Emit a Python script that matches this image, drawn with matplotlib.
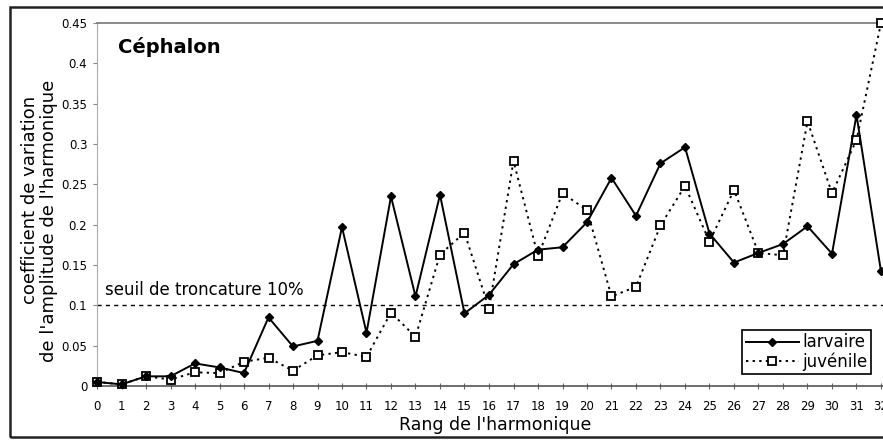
import matplotlib
matplotlib.use("Agg")
import matplotlib.pyplot as plt
from matplotlib.patches import Rectangle
from matplotlib.ticker import FuncFormatter

plt.rcParams['font.family'] = ['DejaVu Sans']

# Data
rang = list(range(33))
larvaire = [0.005, 0.002, 0.012, 0.012, 0.028, 0.023, 0.016, 0.085, 0.049, 0.056,
            0.197, 0.066, 0.235, 0.111, 0.237, 0.090, 0.113, 0.151, 0.169, 0.172,
            0.203, 0.258, 0.211, 0.276, 0.296, 0.189, 0.153, 0.165, 0.176, 0.198,
            0.164, 0.336, 0.142]
juvenile = [0.005, 0.002, 0.012, 0.008, 0.017, 0.016, 0.030, 0.035, 0.019, 0.038,
            0.042, 0.036, 0.091, 0.061, 0.163, 0.190, 0.096, 0.279, 0.161, 0.239,
            0.218, 0.111, 0.123, 0.199, 0.248, 0.179, 0.243, 0.165, 0.162, 0.328,
            0.239, 0.305, 0.450]
yticks = [0, 0.05, 0.1, 0.15, 0.2, 0.25, 0.3, 0.35, 0.4, 0.45]
seuil = 0.1

W, H = 883, 441
fig = plt.figure(figsize=(W / 100, H / 100), dpi=100)
fig.patch.set_facecolor('white')

# outer frame of the scanned figure (right edge cut off)
fig.patches.append(Rectangle((10 / W, 1 - 437 / H), 1.2, (437 - 7) / H,
                             transform=fig.transFigure, fill=False,
                             edgecolor='#222222', lw=1.8))

ax = fig.add_axes([97 / W, 1 - 386 / H, (W - 97) / W, (386 - 23) / H])
ax.set_facecolor('white')

ax.plot(rang, larvaire, color='black', lw=1.4, marker='D', markersize=4.5,
        markerfacecolor='black', label='larvaire', zorder=4, clip_on=False)
ax.plot(rang, juvenile, color='black', lw=1.4, ls=(0, (1.2, 2.2)), marker='s',
        markersize=6, markerfacecolor='white', markeredgecolor='black',
        markeredgewidth=1.3, label='juvénile', zorder=3, clip_on=False)

# threshold line
ax.axhline(seuil, color='black', lw=1.0, ls=(0, (3, 3)), zorder=2)
fig.text(105 / W, 1 - 299 / H, 'seuil de troncature 10%', fontsize=12,
         ha='left', va='bottom')

ax.set_xlim(0, 32 + 2 / 24.5)
ax.set_ylim(0, 0.45)

ax.set_yticks(yticks)
ax.yaxis.set_major_formatter(FuncFormatter(lambda v, p: ('%g' % round(v, 2))))
ax.set_xticks(rang)
ax.tick_params(axis='y', direction='out', length=3, width=0.8, color='#888888',
               labelsize=8.5, pad=4)
ax.tick_params(axis='x', direction='inout', length=4, width=0.8, color='#666666',
               labelsize=8.5, pad=8)

ax.spines['right'].set_visible(False)
ax.spines['top'].set_color('#777777')
ax.spines['top'].set_linewidth(1.2)
ax.spines['left'].set_color('#aaaaaa')
ax.spines['left'].set_linewidth(0.8)
ax.spines['bottom'].set_color('#555555')
ax.spines['bottom'].set_linewidth(1.2)

fig.text(118 / W, 1 - 47 / H, 'Céphalon', fontsize=14, fontweight='bold',
         ha='left', va='center')

fig.text(495 / W, 1 - 425 / H, "Rang de l'harmonique", fontsize=12.5,
         ha='center', va='center')
fig.text(30 / W, 1 - 200 / H, "coefficient de variation",
         rotation=90, fontsize=13, ha='center', va='center')
fig.text(49 / W, 1 - 221 / H, "de l'amplitude de l'harmonique",
         rotation=90, fontsize=13, ha='center', va='center')

leg = ax.legend(loc='lower right', bbox_to_anchor=(871 / W, 1 - 374 / H),
                bbox_transform=fig.transFigure, fontsize=12, frameon=True,
                fancybox=False, edgecolor='black', framealpha=1,
                handlelength=3.2, handletextpad=0.2, borderpad=0.2,
                labelspacing=0.05, borderaxespad=0)
leg.get_frame().set_linewidth(1.2)

plt.savefig('out.png', dpi=100, facecolor='white')
plt.close()
